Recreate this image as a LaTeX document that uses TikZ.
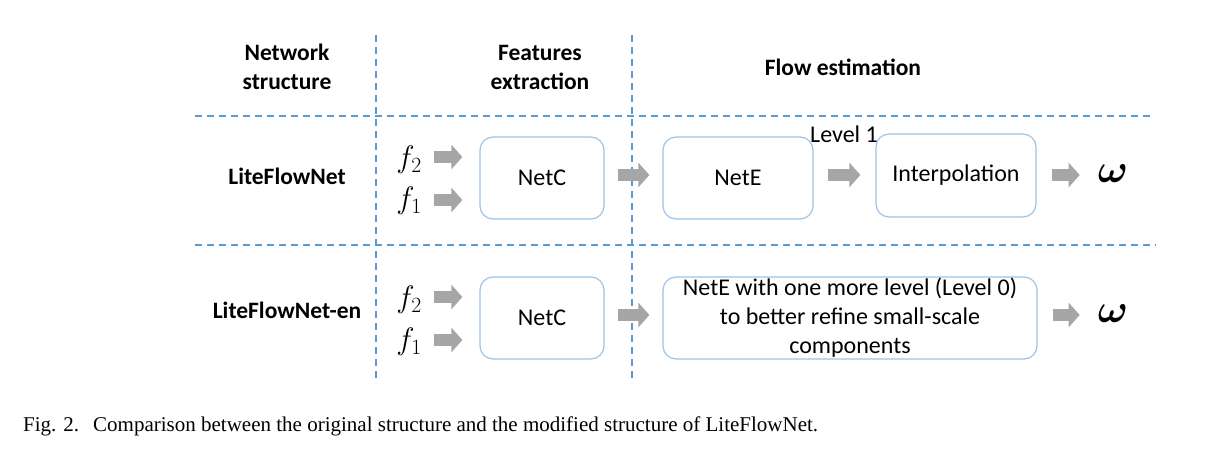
\RequirePackage{fix-cm}
\documentclass[tikz,border=0pt]{standalone}
\usepackage{fontspec}
\usepackage{graphicx}
\usepackage{bm}
\setmainfont{Carlito}
\newfontfamily\capfont{Liberation Serif}
\usetikzlibrary{arrows.meta}
\definecolor{dashblue}{HTML}{5B9BD5}
\definecolor{boxblue}{HTML}{9DC3E6}
\definecolor{arrgray}{HTML}{A6A6A6}
\begin{document}
\begin{tikzpicture}[x=1pt,y=-1pt,
  sep/.style={dashblue, line width=1.8pt, dash pattern=on 7pt off 5pt},
  blockbox/.style={draw=boxblue, line width=1.2pt, rounded corners=13pt, align=center,
    font=\fontsize{24}{29}\selectfont, inner sep=0pt},
  head/.style={font=\fontsize{23.5}{29}\selectfont\bfseries, align=center, inner sep=0pt},
  plain/.style={font=\fontsize{24}{29}\selectfont, inner sep=0pt},
  fin/.style={font=\fontsize{31}{31}\selectfont, inner sep=0pt},
  omg/.style={font=\fontsize{40}{40}\selectfont, inner sep=0pt},
  blk/.style={arrgray, line width=12pt, -{Triangle[length=11pt,width=24pt]}}
]
\useasboundingbox (0,0) rectangle (1223,452);

% separators
\coordinate (v1t) at (376,35);  \coordinate (v1b) at (376,383);
\coordinate (v2t) at (632,35);  \coordinate (v2b) at (632,383);
\coordinate (h1l) at (195,116); \coordinate (h1r) at (1150,116);
\coordinate (h2l) at (195,245); \coordinate (h2r) at (1156,245);
\draw[sep] (v1t) -- (v1b);
\draw[sep] (v2t) -- (v2b);
\draw[sep] (h1l) -- (h1r);
\draw[sep] (h2l) -- (h2r);

% headers
\node[head] (hnet) at (287,67) {Network\\structure};
\node[head] (hfeat) at (540,67) {Features\\extraction};
\node[head] (hflow) at (843,67) {Flow estimation};

% row labels
\node[head] (r1) at (287,176) {LiteFlowNet};
\node[head] (r2) at (287,310) {LiteFlowNet-en};

% row 1
\node[fin] (f2a) at (409,160) {$f_2$};
\node[fin] (f1a) at (409,201) {$f_1$};
\node[blockbox, minimum width=124pt, minimum height=82pt] (netc1) at (542,178) {NetC};
\node[blockbox, minimum width=150pt, minimum height=82pt] (nete1) at (738,178) {NetE};
\node[blockbox, minimum width=160pt, minimum height=83pt] (interp) at (956,175.5) {Interpolation};
\node[plain] (lev1) at (844,134) {Level 1};
\node[omg] (om1) at (1113,174) {$\bm{\omega}$};

\draw[blk, shorten <=12pt, shorten >=17pt] (f2a.east |- 0,157) coordinate (a2s) -- (netc1.west |- a2s);
\draw[blk, shorten <=12pt, shorten >=17pt] (f1a.east |- 0,200) coordinate (a1s) -- (netc1.west |- a1s);
\draw[blk, shorten <=13pt, shorten >=13pt] (netc1.east |- 0,175) -- (nete1.west |- 0,175);
\draw[blk, shorten <=14pt, shorten >=15pt] (nete1.east |- 0,175) -- (interp.west |- 0,175);
\draw[blk, shorten <=15pt, shorten >=18pt] (interp.east |- 0,175) -- (om1.west |- 0,175);

% row 2
\node[fin] (f2b) at (409,300) {$f_2$};
\node[fin] (f1b) at (409,342) {$f_1$};
\node[blockbox, minimum width=124pt, minimum height=82pt] (netc2) at (542,318) {NetC};
\node[blockbox, minimum width=374pt, minimum height=82pt] (nete2) at (850,318)
  {NetE with one more level (Level 0)\\to better refine small-scale\\components};
\node[omg] (om2) at (1113,314) {$\bm{\omega}$};

\draw[blk, shorten <=12pt, shorten >=17pt] (f2b.east |- 0,297) coordinate (b2s) -- (netc2.west |- b2s);
\draw[blk, shorten <=12pt, shorten >=17pt] (f1b.east |- 0,340) coordinate (b1s) -- (netc2.west |- b1s);
\draw[blk, shorten <=13pt, shorten >=13pt] (netc2.east |- 0,315) -- (nete2.west |- 0,315);
\draw[blk, shorten <=15pt, shorten >=18pt] (nete2.east |- 0,315) -- (om2.west |- 0,315);

% caption
\node[anchor=west, inner sep=0pt, font=\capfont\fontsize{21}{21}\selectfont] (cap) at (23,426)
  {Fig. 2.\hspace{14pt}Comparison between the original structure and the modified structure of LiteFlowNet.};
\end{tikzpicture}
\end{document}
